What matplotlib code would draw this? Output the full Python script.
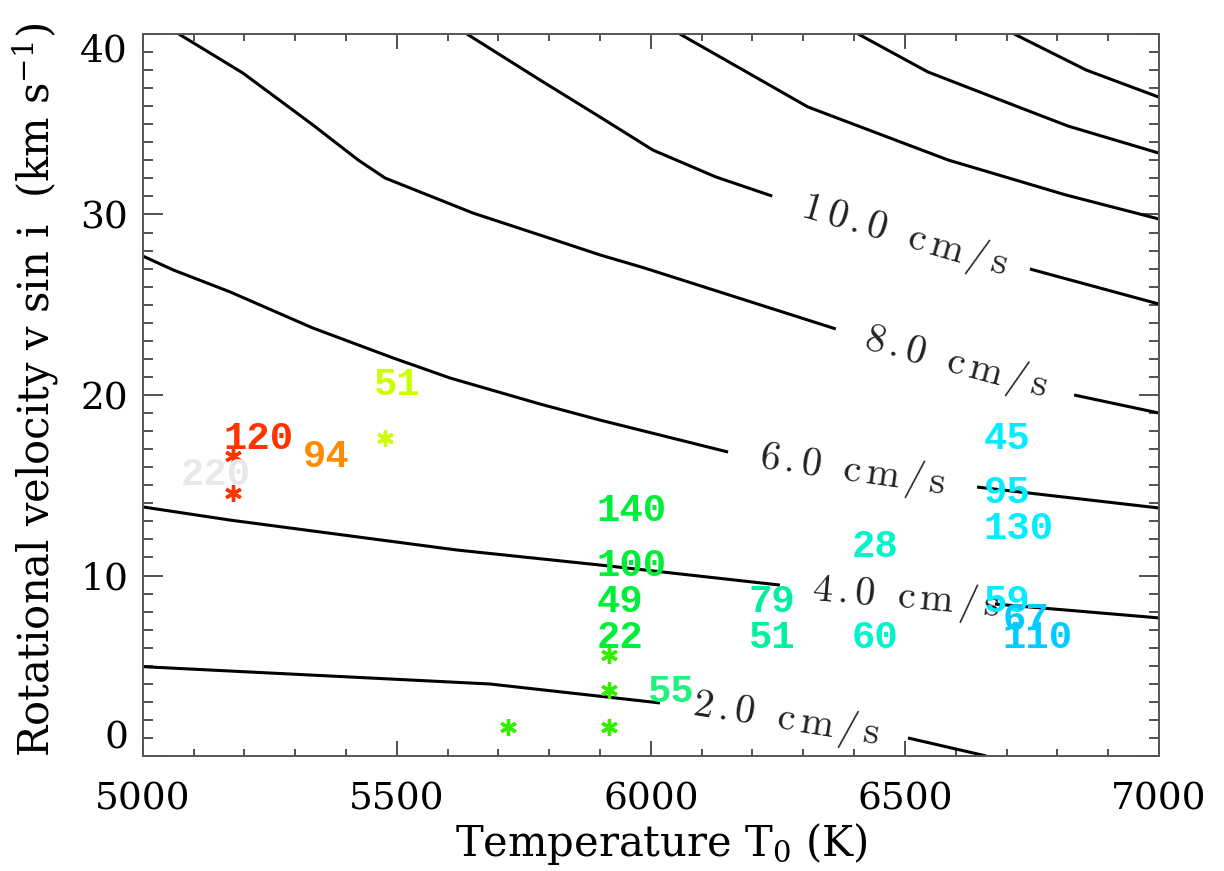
import matplotlib
matplotlib.use("Agg")
import numpy as np
import matplotlib.pyplot as plt
from matplotlib.ticker import MultipleLocator
from matplotlib.font_manager import FontProperties, findfont, get_font

# ------------------------------------------------------------------
# Contours of RV jitter (cm/s) in the (T0, v sin i) plane.
# Each level is a list of segments; segments break where the label sits.
# ------------------------------------------------------------------
c2_T = [[5000, 5683, 6018], [6506, 6660]]
c2_v = [[4.95, 3.99, 2.94], [1.00, 0.00]]
c4_T = [[5000, 5172, 5619, 5900, 6254], [6677, 7000]]
c4_v = [[13.80, 13.07, 11.41, 10.58, 9.47], [8.42, 7.65]]
c6_T = [[5000, 5060, 5172, 5335, 5493, 5605, 5782, 5900, 6152], [6642, 7000]]
c6_v = [[27.70, 26.93, 25.71, 23.71, 22.05, 20.94, 19.50, 18.61, 16.84], [14.90, 13.74]]
c8_T = [[5071, 5197, 5335, 5424, 5477, 5650, 5782, 5900, 5987, 6364], [6833, 7000]]
c8_v = [[40.0, 37.84, 34.96, 33.02, 32.02, 30.08, 28.86, 27.76, 27.04, 23.66], [20.0, 19.0]]
c10_T = [[5638, 5782, 5900, 6004, 6128, 6239], [6746, 7000]]
c10_v = [[40.0, 37.45, 35.40, 33.57, 32.08, 31.02], [26.98, 25.04]]
c12_T = [[6057, 6309, 6585, 6817, 7000]]
c12_v = [[40.0, 35.96, 33.02, 31.08, 29.75]]
c14_T = [[6408, 6545, 6723, 6821, 7000]]
c14_v = [[40.0, 37.90, 35.96, 34.90, 33.40]]
c16_T = [[6715, 6857, 7000]]
c16_v = [[40.0, 38.0, 36.5]]

contour_T = [c2_T, c4_T, c6_T, c8_T, c10_T, c12_T, c14_T, c16_T]
contour_v = [c2_v, c4_v, c6_v, c8_v, c10_v, c12_v, c14_v, c16_v]

# contour level labels: text, baseline start (T0, v sin i), angle
clabel_text = ["2.0 cm/s", "4.0 cm/s", "6.0 cm/s", "8.0 cm/s", "10.0 cm/s"]
clabel_T = [6081, 6317, 6211, 6417, 6293]
clabel_v = [2.27, 8.64, 15.96, 22.55, 29.86]
clabel_angle = [-9, -5, -8, -15, -16]

# stars
star_T = [5178, 5178, 5477, 5918, 5918, 5918, 5719]
star_v = [16.62, 14.57, 17.62, 5.60, 3.66, 1.61, 1.61]
star_color = ["#ff3300", "#ff3300", "#ccff00", "#33ee00", "#33ee00", "#33ee00", "#33ee00"]

# numeric annotations
note_text = ["220", "120", "94", "51", "140", "100", "49", "22", "55",
             "79", "51", "28", "60", "45", "95", "130", "59", "67", "110"]
note_T = [5074, 5158, 5315, 5455, 5893, 5893, 5893, 5893, 5995,
          6193, 6193, 6395, 6395, 6655, 6655, 6655, 6655, 6692, 6692]
note_v = [15, 17, 16, 20, 13, 10, 8, 6, 3, 8, 6, 11, 6, 17, 14, 12, 8, 7, 6]
note_color = ["#e8e8e8", "#ff3300", "#ff8c00", "#ccff00",
              "#00ee38", "#00ee38", "#00ee38", "#00ee38", "#22f080",
              "#00f0a0", "#00f0a0", "#00f5cc", "#00f5cc",
              "#00eeff", "#00eeff", "#00eeff", "#00eeff", "#00ccff", "#00ccff"]

x_ticks = [5000, 5500, 6000, 6500, 7000]
y_ticks = [0, 10, 20, 30, 40]

plt.rcParams["mathtext.fontset"] = "dejavuserif"

fig = plt.figure(figsize=(12.24, 8.71), dpi=100)
ax = fig.add_axes([142.7 / 1224, 115 / 871, 1016.3 / 1224, 722 / 871])
ax.set_xlim(5000, 7000)
ax.set_ylim(0, 40)

for segs_T, segs_v in zip(contour_T, contour_v):
    for t, v in zip(segs_T, segs_v):
        ax.plot(t, v, color="black", lw=2.2, solid_capstyle="butt", zorder=2)

# contour labels, letter-spaced along the contour direction
cl_prop = FontProperties(family=["cmr10", "DejaVu Serif"], size=29)
cl_font = get_font(findfont(cl_prop))
cl_font.set_size(cl_prop.get_size_in_points(), 72)


def spaced_label(t0, v0, text, angle, tracking=3.6):
    a = np.deg2rad(angle)
    s = 0.0
    for ch in text:
        if ch == " ":
            adv = 0.333 * cl_prop.get_size_in_points()
        else:
            ax.annotate(ch, xy=(t0, v0), xytext=(s * np.cos(a), s * np.sin(a)),
                        textcoords="offset points", rotation=angle,
                        rotation_mode="anchor", ha="left", va="baseline",
                        fontproperties=cl_prop, color="#222222",
                        annotation_clip=False, zorder=3)
            adv = cl_font.load_char(ord(ch)).linearHoriAdvance / 65536.0
        s += adv + tracking


for txt, t, v, ang in zip(clabel_text, clabel_T, clabel_v, clabel_angle):
    spaced_label(t, v, txt, ang)

for t, v, c in zip(star_T, star_v, star_color):
    ax.plot([t], [v], linestyle="none", marker=(6, 2, 0), ms=12, mew=2.4,
            color=c, zorder=4)

for txt, t, v, c in zip(note_text, note_T, note_v, note_color):
    ax.text(t, v, txt, color=c, fontfamily="Liberation Mono", fontweight="bold",
            fontsize=28, ha="left", va="baseline", zorder=5)

# axes frame and ticks
for sp in ax.spines.values():
    sp.set_color("#555555")
    sp.set_linewidth(1.4)
ax.xaxis.set_minor_locator(MultipleLocator(100))
ax.yaxis.set_minor_locator(MultipleLocator(1))
ax.set_xticks(x_ticks)
ax.set_yticks(y_ticks)
ax.set_xticklabels([str(x) for x in x_ticks], fontfamily="DejaVu Serif", fontsize=27)
ax.set_yticklabels([str(y) for y in y_ticks], fontfamily="DejaVu Serif", fontsize=27)
ax.tick_params(which="both", direction="in", top=True, right=True,
               color="#333333", width=1.2)
ax.tick_params(axis="x", which="major", length=10.6, pad=18.5)
ax.tick_params(axis="x", which="minor", length=5.0)
ax.tick_params(axis="y", which="major", length=14.4, pad=10.6)
ax.tick_params(axis="y", which="minor", length=7.2)
ylabels = ax.get_yticklabels()
ylabels[0].set_va("bottom")
ylabels[-1].set_va("top")

fig.text(661 / 1224, (871 - 856) / 871, r"Temperature T$_0$ (K)",
         fontfamily="DejaVu Serif", fontsize=30, ha="center", va="baseline")
fig.text(50 / 1224, (871 - 390) / 871, r"Rotational velocity v sin i  (km s$^{-1}$)",
         fontfamily="DejaVu Serif", fontsize=30, ha="center", va="baseline",
         rotation=90, rotation_mode="anchor")

fig.savefig("out.png", dpi=100)
